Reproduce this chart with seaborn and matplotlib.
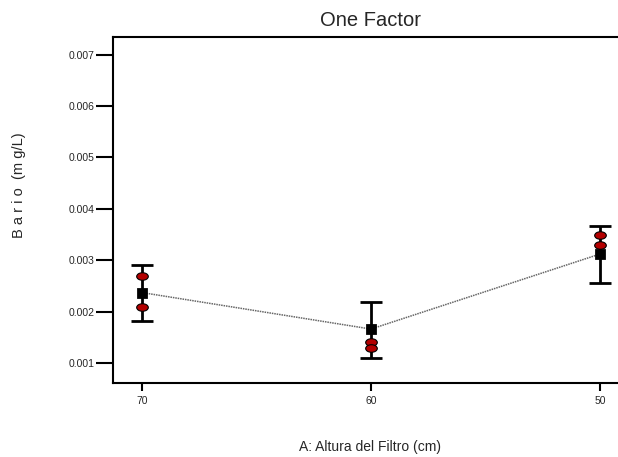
import matplotlib
matplotlib.use("Agg")
import matplotlib.pyplot as plt
from matplotlib.path import Path
from matplotlib.transforms import Affine2D
import seaborn as sns
import pandas as pd
import numpy as np

# Filter height levels (cm) and predicted means with LSD interval bounds
levels = [70, 60, 50]
means = [0.00237, 0.00166, 0.00312]
lower = [0.00182, 0.00110, 0.00256]
upper = [0.00291, 0.00218, 0.00366]

# Observed barium concentrations (mg/L) per level
obs_level = [70, 70, 60, 60, 50, 50]
obs_value = [0.00270, 0.00209, 0.00140, 0.00129, 0.00350, 0.00330]

y_ticks = [0.001, 0.002, 0.003, 0.004, 0.005, 0.006, 0.007]

sns.set_theme(style="white")
plt.rcParams["font.family"] = ["Liberation Sans", "DejaVu Sans"]

fig = plt.figure(figsize=(6.18, 4.57), dpi=100)
ax = fig.add_axes([0.1828, 0.1619, 0.8172, 0.7578])

means_df = pd.DataFrame({"level": levels, "mean": means})
obs_df = pd.DataFrame({"level": obs_level, "value": obs_value})

# Interval bars
yerr = np.array([np.array(means) - np.array(lower), np.array(upper) - np.array(means)])
ax.errorbar(levels, means, yerr=yerr, fmt="none", ecolor="black",
            elinewidth=2, capsize=8, capthick=2, zorder=2)

# Line joining the means
sns.lineplot(data=means_df, x="level", y="mean", ax=ax, color="#666666",
             linewidth=1.1, linestyle=(0, (1, 0.6)), zorder=3)

# Observations drawn as flat ellipses
ellipse = Path.unit_circle().transformed(Affine2D().scale(1.0, 0.65))
sns.scatterplot(data=obs_df, x="level", y="value", ax=ax, marker=ellipse,
                s=70, color="#b30000", edgecolor="black", linewidth=0.8,
                zorder=4)

# Means
sns.scatterplot(data=means_df, x="level", y="mean", ax=ax, marker="s",
                s=50, color="black", edgecolor="black", zorder=5)

ax.set_xlim(71.27, 49.21)
ax.set_ylim(0.00061, 0.00735)
ax.set_xticks(levels)
ax.set_xticklabels([str(v) for v in levels], fontsize=7.5)
ax.set_yticks(y_ticks)
ax.set_yticklabels([f"{v:.3f}" for v in y_ticks], fontsize=7.5)
ax.tick_params(axis="x", direction="out", length=6, width=1.5,
               color="black", bottom=True, pad=3.5)
ax.tick_params(axis="y", direction="out", length=12, width=1.5,
               color="black", left=True, pad=1.5)

for side in ["left", "top", "bottom"]:
    ax.spines[side].set_color("black")
    ax.spines[side].set_linewidth(1.5)
ax.spines["right"].set_visible(False)

ax.set_title("One Factor", fontsize=14.5, pad=8, x=0.509)
ax.set_xlabel("A: Altura del Filtro (cm)", fontsize=10)
ax.xaxis.set_label_coords(0.509, -0.185)
ax.xaxis.label.set_va("center")
ax.set_ylabel("B a r i o  (m g/L)", fontsize=10.5)
ax.yaxis.set_label_coords(-0.186, 0.572)
ax.yaxis.label.set_va("center")

fig.savefig("out.png", dpi=100)
